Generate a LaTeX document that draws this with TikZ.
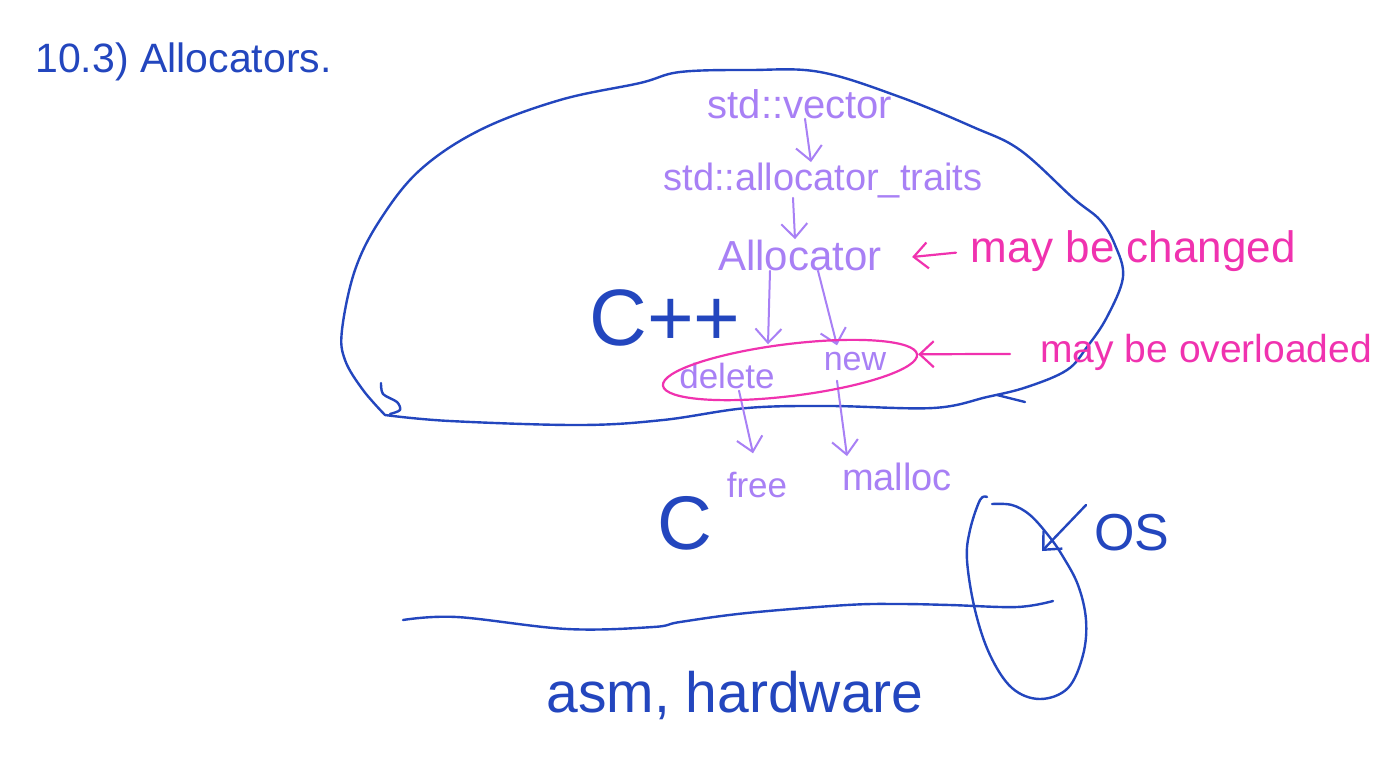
\documentclass[tikz,border=0pt]{standalone}
\usepackage{fontspec}
\setmainfont{Liberation Sans}
\usetikzlibrary{arrows.meta,shapes.geometric,calc}
\definecolor{inkblue}{RGB}{35,70,190}
\definecolor{inkviolet}{RGB}{168,128,245}
\definecolor{inkpink}{RGB}{240,50,175}
\begin{document}
\begin{tikzpicture}[x=0.5pt,y=-0.5pt,
  bl/.style={draw=inkblue,line width=1.2pt,line cap=round,line join=round},
  barb/.style={-{Straight Barb[length=7pt,width=13pt]}},
  vl/.style={draw=inkviolet,line width=1pt,line cap=round,barb},
  pk/.style={draw=inkpink,line width=1.1pt,line cap=round,barb},
  vtxt/.style={text=inkviolet,inner sep=0pt,anchor=base},
  btxt/.style={text=inkblue,inner sep=0pt},
  ptxt/.style={text=inkpink,inner sep=0pt,anchor=base west}
]
\useasboundingbox[fill=white] (0,0) rectangle (1376,757);

% title
\node[btxt,anchor=base west,font=\fontsize{20.5pt}{24pt}\selectfont] (title) at (35,72) {10.3) Allocators.};

% big blob (C++)
\draw[bl] plot[smooth,tension=0.6] coordinates {(385,415) (450,421) (580,425) (663,420) (747,408) (830,406) (933,408) (987,397) (1027,387) (1067,370) (1087,347) (1107,317) (1123,277) (1115,245) (1100,220) (1073,198) (1020,150) (973,127) (900,97) (820,72) (750,70) (680,72) (640,83) (560,100) (480,130) (420,170) (380,220) (355,270) (342,330) (345,360) (363,390) (385,415)};
\draw[bl] plot[smooth] coordinates {(381,383) (383,394) (397,402) (400,410) (390,414)};
\draw[bl] (997,395) -- (1025,402);

% violet chain
\node[vtxt,font=\fontsize{20pt}{24pt}\selectfont] (vec) at (800,118) {std::vector};
\node[vtxt,font=\fontsize{19pt}{24pt}\selectfont] (traits) at (823,190) {std::allocator\_traits};
\node[vtxt,font=\fontsize{21pt}{24pt}\selectfont] (alloc) at (800,270) {Allocator};
\node[vtxt,font=\fontsize{17.5pt}{20pt}\selectfont] (del) at (727,388) {delete};
\node[vtxt,font=\fontsize{17pt}{20pt}\selectfont] (new) at (855,370) {new};
\node[vtxt,font=\fontsize{17.5pt}{20pt}\selectfont] (free) at (757,497) {free};
\node[vtxt,font=\fontsize{19pt}{22pt}\selectfont] (malloc) at (897,490) {malloc};

\draw[vl] ([xshift=2.5pt]vec.south) -- ([xshift=-6pt]traits.north);
\draw[vl] ([xshift=-15pt]traits.south) -- ([xshift=-2.5pt]alloc.north);
\draw[vl] ([xshift=-15pt]alloc.south) -- ([xshift=20.5pt,yshift=9pt]del.north);
\draw[vl] ([xshift=9pt]alloc.south) -- ([xshift=-9pt,yshift=3pt]new.north);
\draw[vl] ([xshift=6pt,yshift=-1pt]del.south) -- ([xshift=-2pt,yshift=9pt]free.north);
\draw[vl] ([xshift=-9pt,yshift=-5pt]new.south) -- ([xshift=-25pt,yshift=3pt]malloc.north);

% pink ring
\node[ellipse,draw=inkpink,line width=1.1pt,minimum width=128pt,minimum height=26pt,inner sep=0pt,rotate=7] (ring) at (790,370) {};

% pink labels
\node[ptxt,font=\fontsize{22pt}{26pt}\selectfont] (chg) at (970,262) {may be changed};
\node[ptxt,font=\fontsize{19.5pt}{24pt}\selectfont] (ovl) at (1040,362) {may be overloaded};
\draw[pk] ([xshift=-7pt,yshift=-1pt]chg.west) -- ([xshift=15pt,yshift=-1pt]alloc.east);
\draw[pk] ([xshift=-15pt,yshift=-1pt]ovl.west) -- (ring.east);

% C++ and C
\node[btxt,font=\fontsize{40pt}{44pt}\selectfont] (cpp) at (665,318) {C++};
\node[btxt,font=\fontsize{38pt}{42pt}\selectfont] (c) at (685,523) {C};

% OS
\node[btxt,font=\fontsize{26pt}{30pt}\selectfont] (os) at (1132,533) {OS};
\draw[bl] plot[smooth,tension=0.6] coordinates {(987,497) (980,500) (970,530) (967,560) (975,610) (990,655) (1012,688) (1040,699) (1068,688) (1083,655) (1086,620) (1078,585) (1062,555) (1048,535) (1030,515) (1012,505) (992,504)};
\coordinate (ostip) at (1042,551);
\draw[bl,barb] ([xshift=-4pt,yshift=14pt]os.west) -- (ostip);

% bottom line
\draw[bl] plot[smooth,tension=0.6] coordinates {(403,620) (457,617) (567,629) (653,627) (680,622) (747,613) (847,605) (900,604) (950,605) (1017,607) (1053,601)};

\node[btxt,anchor=base,font=\fontsize{28.5pt}{32pt}\selectfont] (asm) at (735,712) {asm, hardware};
\end{tikzpicture}
\end{document}
